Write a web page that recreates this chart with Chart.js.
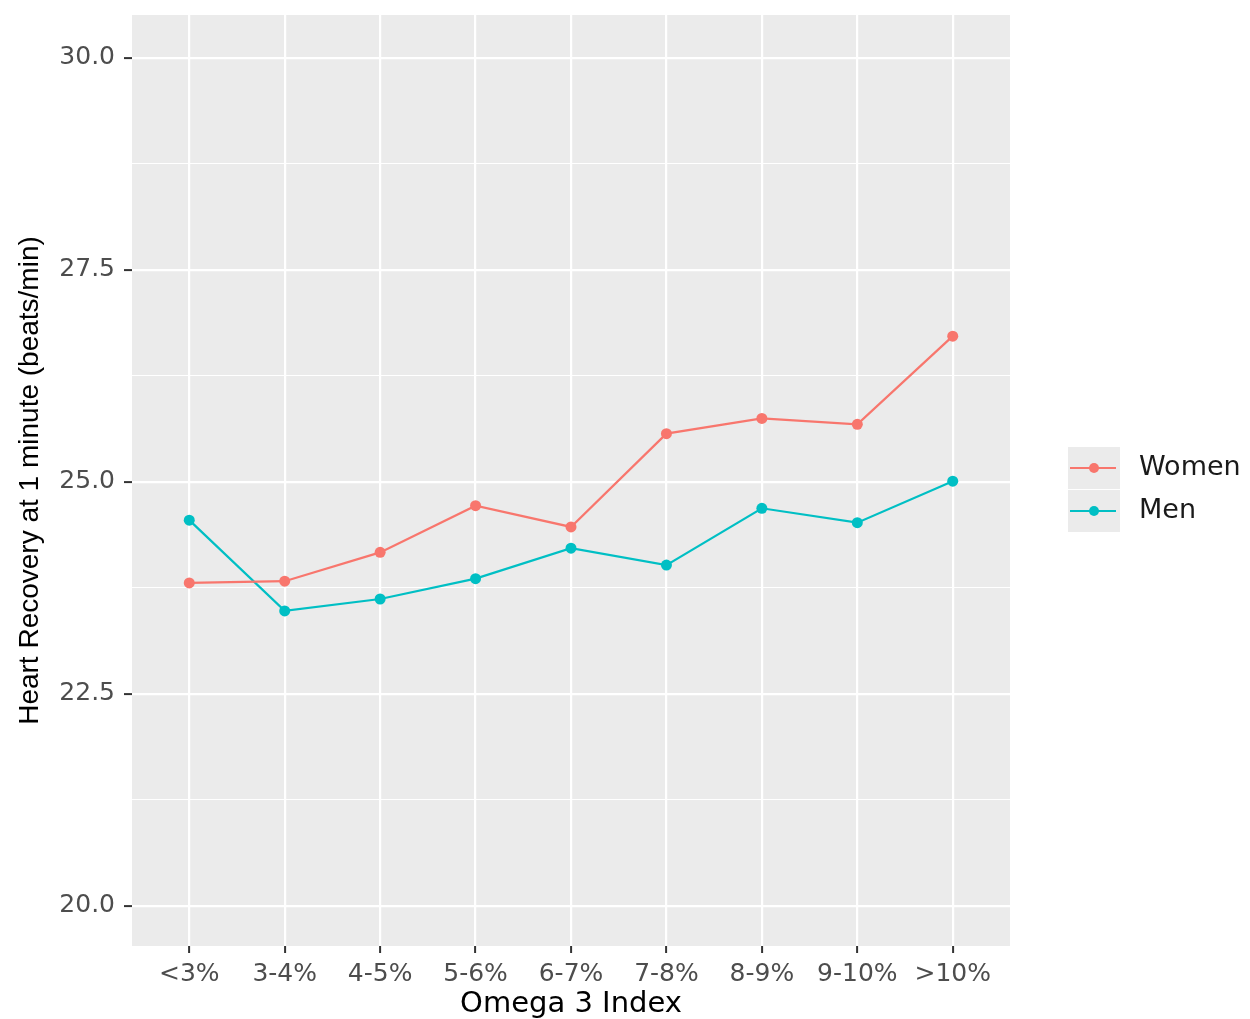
<!DOCTYPE html>
<html>
<head>
<meta charset="utf-8">
<script src="https://cdn.jsdelivr.net/npm/chart.js@4"></script>
<style>
  html, body { margin: 0; padding: 0; background: #fff; }
  #wrap { width: 1250px; height: 1019px; }
</style>
</head>
<body>
<div id="wrap"><canvas id="myChart" width="1250" height="1019"></canvas></div>
<script>
const categories = ['<3%', '3-4%', '4-5%', '5-6%', '6-7%', '7-8%', '8-9%', '9-10%', '>10%'];
const women = [23.81, 23.83, 24.17, 24.72, 24.47, 25.57, 25.75, 25.68, 26.72];
const men = [24.55, 23.48, 23.62, 23.86, 24.22, 24.02, 24.69, 24.52, 25.01];
const yMajor = [20.0, 22.5, 25.0, 27.5, 30.0];
const yMinor = [21.25, 23.75, 26.25, 28.75];

const womenColor = '#F8766D';
const menColor = '#00BFC4';
const tickFont = { family: 'DejaVu Sans', size: 25 };

// ggplot grey panel
const panelBg = {
    id: 'panelBg',
    beforeDraw(chart) {
        const { ctx, chartArea } = chart;
        ctx.save();
        ctx.fillStyle = '#EBEBEB';
        ctx.fillRect(chartArea.left, chartArea.top, chartArea.right - chartArea.left, chartArea.bottom - chartArea.top);
        ctx.restore();
    }
};

// legend drawn to the right, ggplot style keys
const sideLegend = {
    id: 'sideLegend',
    afterDraw(chart) {
        const ctx = chart.ctx;
        const keyX = 1068, keyW = 52, keyH = 42, top = 447;
        ctx.save();
        chart.data.datasets.forEach((ds, i) => {
            const y = top + i * (keyH + 1);
            ctx.fillStyle = '#EBEBEB';
            ctx.fillRect(keyX, y, keyW, keyH);
            const cy = y + keyH / 2;
            ctx.strokeStyle = ds.borderColor;
            ctx.lineWidth = 2;
            ctx.beginPath();
            ctx.moveTo(keyX + 2, cy);
            ctx.lineTo(keyX + keyW - 4, cy);
            ctx.stroke();
            ctx.fillStyle = ds.borderColor;
            ctx.beginPath();
            ctx.arc(keyX + keyW / 2, cy, 5, 0, Math.PI * 2);
            ctx.fill();
            ctx.fillStyle = '#1A1A1A';
            ctx.font = '27px "DejaVu Sans"';
            ctx.textBaseline = 'middle';
            ctx.fillText(ds.label, 1139, cy);
        });
        ctx.restore();
    }
};

const toPoints = arr => arr.map((v, i) => ({ x: i, y: v }));

const ctx = document.getElementById('myChart').getContext('2d');
new Chart(ctx, {
    type: 'line',
    data: {
        datasets: [
            {
                label: 'Women',
                data: toPoints(women),
                borderColor: womenColor,
                backgroundColor: womenColor,
                borderWidth: 2.2,
                pointRadius: 5.5,
                pointBorderWidth: 0,
                tension: 0
            },
            {
                label: 'Men',
                data: toPoints(men),
                borderColor: menColor,
                backgroundColor: menColor,
                borderWidth: 2.2,
                pointRadius: 5.5,
                pointBorderWidth: 0,
                tension: 0
            }
        ]
    },
    options: {
        responsive: false,
        animation: false,
        layout: { padding: { top: 15, right: 240, left: 0, bottom: 0 } },
        plugins: {
            legend: { display: false },
            tooltip: { enabled: false }
        },
        scales: {
            x: {
                type: 'linear',
                min: -0.6,
                max: 8.6,
                afterBuildTicks: scale => {
                    scale.ticks = categories.map((c, i) => ({ value: i }));
                },
                afterFit: scale => {
                    scale.height = 73;
                    scale.paddingLeft = 0;
                    scale.paddingRight = 0;
                },
                ticks: {
                    autoSkip: false,
                    maxRotation: 0,
                    color: '#4D4D4D',
                    font: tickFont,
                    padding: 6,
                    callback: v => categories[v]
                },
                grid: {
                    color: '#FFFFFF',
                    lineWidth: 2.2,
                    tickColor: '#333333',
                    tickWidth: 2,
                    tickLength: 7
                },
                border: { display: false },
                title: {
                    display: true,
                    text: 'Omega 3 Index',
                    color: '#000000',
                    font: { family: 'DejaVu Sans', size: 29, lineHeight: 1.0 },
                    padding: { top: 0, bottom: 0 }
                }
            },
            y: {
                type: 'linear',
                min: 19.528,
                max: 30.507,
                afterBuildTicks: scale => {
                    scale.ticks = yMajor.concat(yMinor).sort((a, b) => a - b).map(v => ({ value: v }));
                },
                afterFit: scale => {
                    scale.width = 132;
                    scale.paddingTop = 0;
                    scale.paddingBottom = 0;
                },
                ticks: {
                    color: '#4D4D4D',
                    font: tickFont,
                    padding: 9,
                    callback: v => yMajor.includes(v) ? v.toFixed(1) : ''
                },
                grid: {
                    color: '#FFFFFF',
                    lineWidth: c => yMajor.includes(c.tick.value) ? 2.2 : 1.1,
                    tickColor: c => yMajor.includes(c.tick.value) ? '#333333' : 'rgba(0,0,0,0)',
                    tickWidth: 2,
                    tickLength: 8
                },
                border: { display: false },
                title: {
                    display: true,
                    text: 'Heart Recovery at 1 minute (beats/min)',
                    color: '#000000',
                    font: { family: 'Liberation Sans', size: 28 },
                    padding: { top: 13, bottom: 0 }
                }
            }
        }
    },
    plugins: [panelBg, sideLegend]
});
</script>
</body>
</html>
